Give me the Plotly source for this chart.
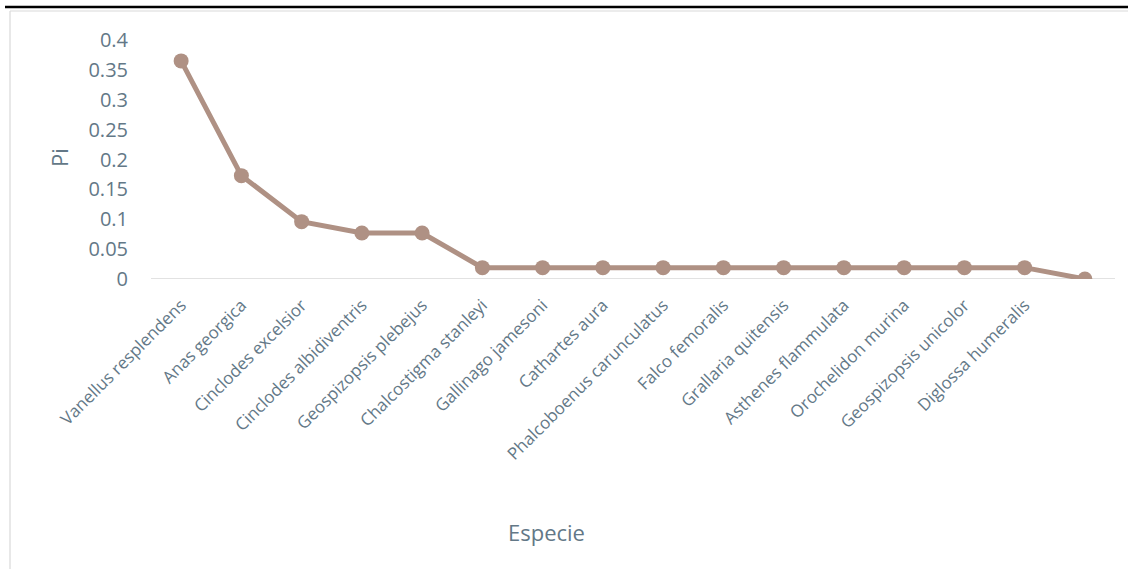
import plotly.graph_objects as go

especies = [
    "Vanellus resplendens", "Anas georgica", "Cinclodes excelsior",
    "Cinclodes albidiventris", "Geospizopsis plebejus", "Chalcostigma stanleyi",
    "Gallinago jamesoni", "Cathartes aura", "Phalcoboenus carunculatus",
    "Falco femoralis", "Grallaria quitensis", "Asthenes flammulata",
    "Orochelidon murina", "Geospizopsis unicolor", "Diglossa humeralis", " ",
]
pi_values = [0.365, 0.173, 0.096, 0.077, 0.077, 0.019, 0.019, 0.019, 0.019,
             0.019, 0.019, 0.019, 0.019, 0.019, 0.019, 0.0]
y_ticks = [0, 0.05, 0.1, 0.15, 0.2, 0.25, 0.3, 0.35, 0.4]
y_tick_text = ["0", "0.05", "0.1", "0.15", "0.2", "0.25", "0.3", "0.35", "0.4"]

W, H = 1128, 569
L, R, T, B = 151, 13, 40, 290
pw, ph = W - L - R, H - T - B

def px(x):
    return (x - L) / pw

def py(y):
    return (H - B - y) / ph

text_color = "#637887"
line_color = "#AF9184"
font_family = "Open Sans, Lato, sans-serif"

fig = go.Figure()
fig.add_trace(go.Scatter(
    x=list(range(len(especies))), y=pi_values, mode="lines+markers",
    line=dict(color=line_color, width=5),
    marker=dict(color=line_color, size=15),
    showlegend=False, hoverinfo="skip",
))

fig.update_layout(
    width=W, height=H,
    margin=dict(l=L, r=R, t=T, b=B),
    paper_bgcolor="white", plot_bgcolor="white",
    font=dict(family=font_family, color=text_color, size=17),
    xaxis=dict(
        tickmode="array", tickvals=list(range(len(especies))), ticktext=especies,
        range=[-0.5, len(especies) - 0.5], tickangle=-45,
        showgrid=False, zeroline=False, showline=False, ticks="",
        ticklabelstandoff=12,
        tickfont=dict(size=17, color=text_color, family=font_family),
    ),
    yaxis=dict(
        range=[0, 0.4], tickmode="array", tickvals=y_ticks, ticktext=y_tick_text,
        showgrid=False, zeroline=False, showline=False, ticks="",
        ticklabelstandoff=22,
        tickfont=dict(size=20, color=text_color, family=font_family),
    ),
    shapes=[
        dict(type="line", xref="paper", yref="y", x0=0, x1=1, y0=0, y1=0,
             line=dict(color="#D9D9D9", width=1.5), layer="below"),
        dict(type="line", xref="paper", yref="paper", x0=px(5), x1=px(1130),
             y0=py(7), y1=py(7), line=dict(color="black", width=2.5)),
        dict(type="line", xref="paper", yref="paper", x0=px(10), x1=px(10),
             y0=py(11), y1=py(575), line=dict(color="#D9D9D9", width=1.2)),
        dict(type="line", xref="paper", yref="paper", x0=px(10), x1=px(1130),
             y0=py(11), y1=py(11), line=dict(color="#D9D9D9", width=1.2)),
    ],
    annotations=[
        dict(text="Pi", xref="paper", yref="paper", x=px(59), y=py(158),
             xanchor="center", yanchor="middle",
             showarrow=False, textangle=-90,
             font=dict(size=22, color=text_color, family=font_family)),
        dict(text="Especie", xref="paper", yref="paper", x=px(546), y=py(532),
             xanchor="center", yanchor="middle",
             showarrow=False,
             font=dict(size=22, color=text_color, family=font_family)),
    ],
)

fig.write_html("out.html", config={"displayModeBar": False},
               post_script="document.body.style.margin='0';")
